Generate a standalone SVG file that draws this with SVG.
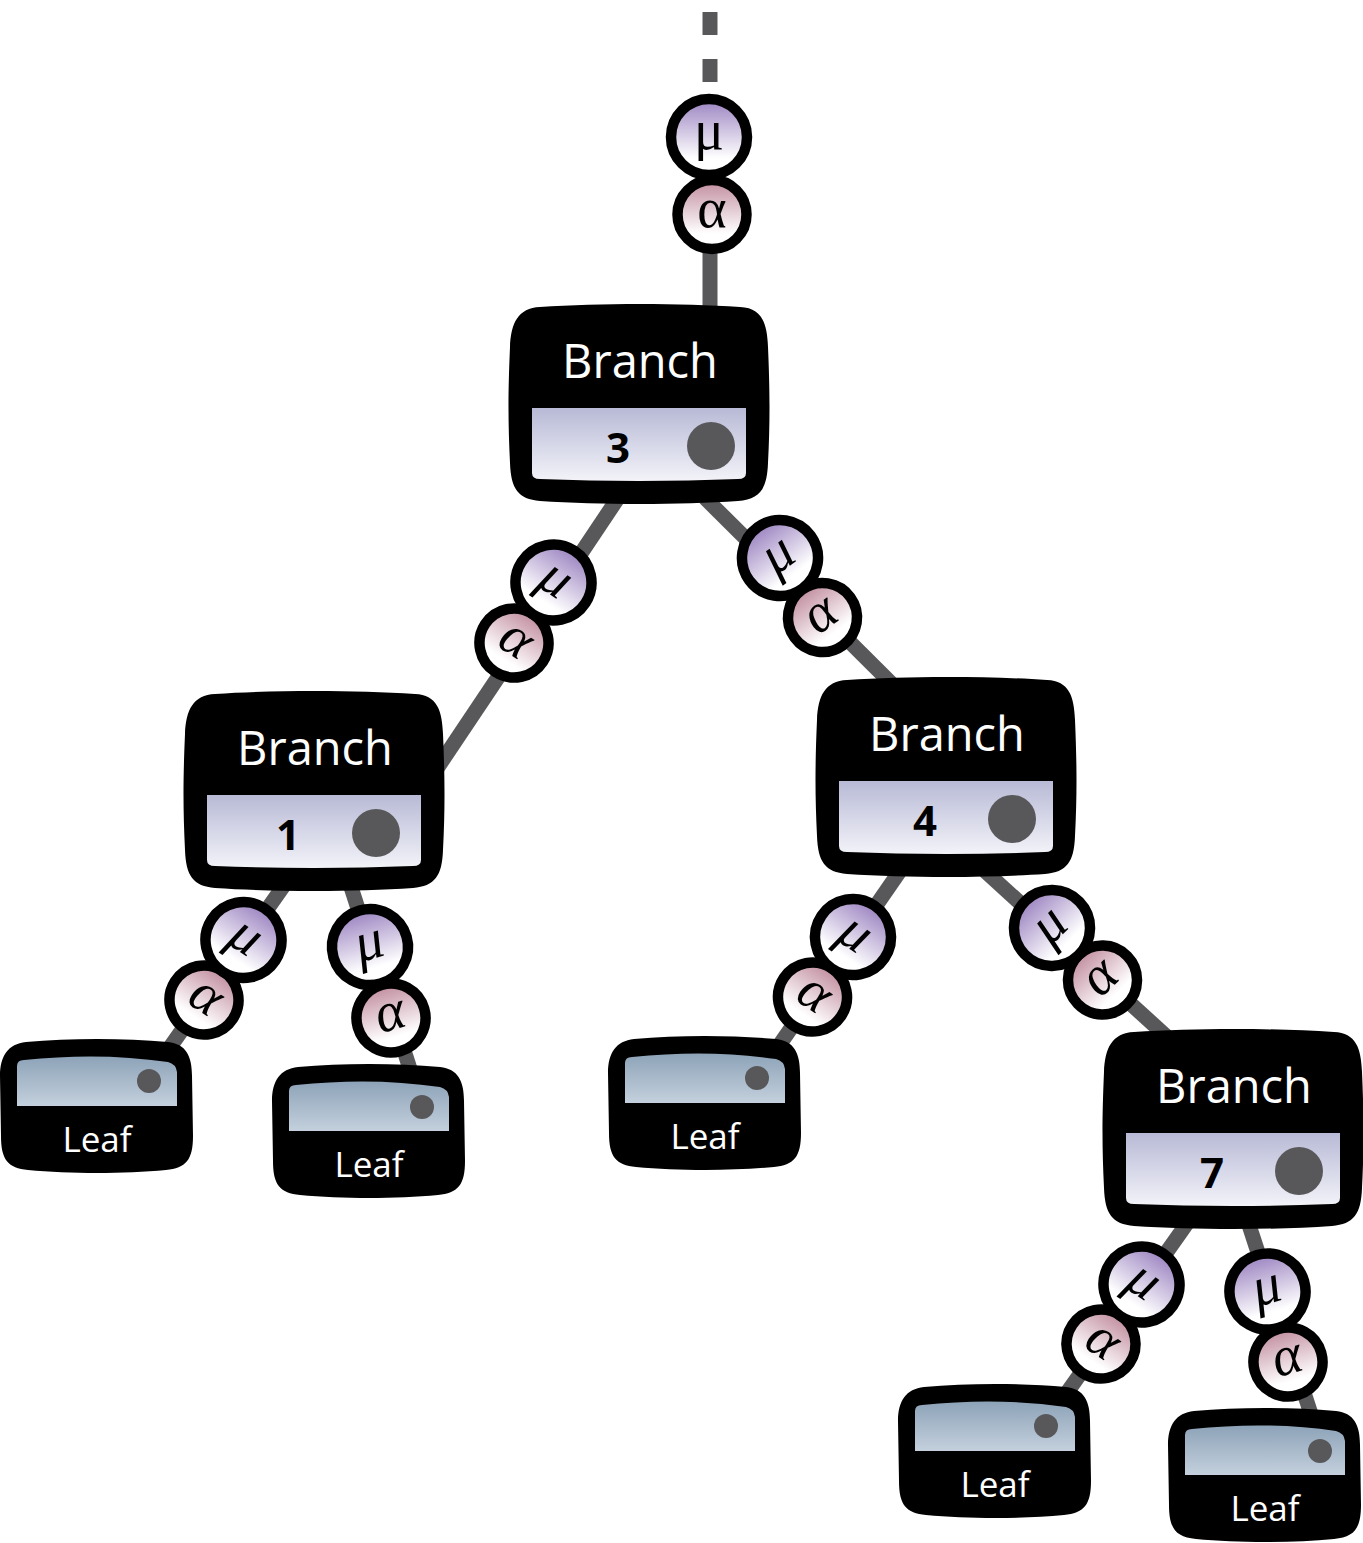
<svg xmlns="http://www.w3.org/2000/svg" width="1363" height="1543" viewBox="0 0 1363 1543">
<defs>
<linearGradient id="gMu" x1="0" y1="0" x2="0" y2="1">
<stop offset="0" stop-color="#9a82c0"/>
<stop offset="0.78" stop-color="#ffffff"/>
</linearGradient>
<linearGradient id="gAl" x1="0" y1="0" x2="0" y2="1">
<stop offset="0" stop-color="#c08b9c"/>
<stop offset="0.78" stop-color="#ffffff"/>
</linearGradient>
<linearGradient id="gBP" x1="0" y1="0" x2="0" y2="1">
<stop offset="0" stop-color="#b8bad6"/>
<stop offset="1" stop-color="#f3f3f9"/>
</linearGradient>
<linearGradient id="gLP" x1="0" y1="0" x2="0" y2="1">
<stop offset="0" stop-color="#8da3b8"/>
<stop offset="1" stop-color="#c4d0dd"/>
</linearGradient>
<path id="bbox" d="M 30,4 C 90,0 170,0 230,4 C 252,5 257,20 258,44 C 260,90 260,120 258,160 C 257,186 250,196 228,198 C 170,202 90,202 30,198 C 8,196 1,186 0,160 C -2,120 -2,90 0,44 C 1,20 8,5 30,4 Z"/>
<path id="bpanel" d="M 22,105 L 236,105 L 236,170 Q 236,176 228,176 Q 129,180 30,176 Q 22,176 22,170 Z"/>
<path id="lbox" d="M 26,4 C 70,0 124,0 168,4 C 186,6 192,18 192,38 L 193,98 C 193,122 186,130 166,132 C 124,136 70,136 28,132 C 8,130 1,122 1,98 L 0,38 C 0,18 8,6 26,4 Z"/>
<path id="lpanel" d="M 17,68 L 17,28 Q 17,22 24,22 Q 100,14 168,24 Q 176,26 177,34 L 177,68 Z"/>
</defs>
<style>
.edge{stroke:#58585a;stroke-width:15;fill:none}
.box{fill:#000}
.bp{fill:url(#gBP)}
.lp{fill:url(#gLP)}
.dot{fill:#58585a}
.bt{font-family:"Open Sans","Liberation Sans",sans-serif;font-size:47px;fill:#fff;text-anchor:middle}
.num{font-family:"Open Sans","Liberation Sans",sans-serif;font-size:42px;font-weight:bold;fill:#000;text-anchor:middle}
.lt{font-family:"Open Sans","Liberation Sans",sans-serif;font-size:35px;fill:#fff;text-anchor:middle}
.mu{fill:url(#gMu);stroke:#000;stroke-width:10.5}
.al{fill:url(#gAl);stroke:#000;stroke-width:10.5}
.g{font-family:"Liberation Serif","DejaVu Serif",serif;font-size:56px;fill:#000;text-anchor:middle;font-style:italic}
.up{font-style:normal}
</style>
<g id="connectors">
<line class="edge" x1="710" y1="12" x2="710" y2="35"/>
<line class="edge" x1="710" y1="59" x2="710" y2="82"/>
<line class="edge" x1="710" y1="130" x2="710" y2="310"/>
<line class="edge" x1="618" y1="498" x2="436" y2="770"/>
<line class="edge" x1="705" y1="498" x2="892" y2="684"/>
<line class="edge" x1="285" y1="884" x2="168" y2="1050"/>
<line class="edge" x1="350" y1="884" x2="411" y2="1072"/>
<line class="edge" x1="900" y1="871" x2="778" y2="1047"/>
<line class="edge" x1="985" y1="871" x2="1166" y2="1036"/>
<line class="edge" x1="1188" y1="1222" x2="1066" y2="1394"/>
<line class="edge" x1="1248" y1="1222" x2="1311" y2="1414"/>
</g>
<g id="edge-labels">
<g transform="translate(712,214.5)"><circle class="al" r="34.5"/><text class="g up" y="12">α</text></g>
<g transform="translate(709,137)"><circle class="mu" r="38"/><text class="g up" y="12">μ</text></g>
<g transform="translate(514,643) rotate(33)"><circle class="al" r="34.5"/><text class="g" y="12">α</text></g>
<g transform="translate(553.5,582.5) rotate(33)"><circle class="mu" r="38"/><text class="g" y="12">μ</text></g>
<g transform="translate(822.5,617.5) rotate(-36)"><circle class="al" r="34.5"/><text class="g" y="12">α</text></g>
<g transform="translate(780,558) rotate(-36)"><circle class="mu" r="38"/><text class="g" y="12">μ</text></g>
<g transform="translate(204,1000) rotate(33)"><circle class="al" r="34.5"/><text class="g" y="12">α</text></g>
<g transform="translate(243.5,940) rotate(33)"><circle class="mu" r="38"/><text class="g" y="12">μ</text></g>
<g transform="translate(391,1018) rotate(-16)"><circle class="al" r="34.5"/><text class="g" y="12">α</text></g>
<g transform="translate(370,947) rotate(-16)"><circle class="mu" r="38"/><text class="g" y="12">μ</text></g>
<g transform="translate(812.5,997) rotate(34)"><circle class="al" r="34.5"/><text class="g" y="12">α</text></g>
<g transform="translate(853,937) rotate(34)"><circle class="mu" r="38"/><text class="g" y="12">μ</text></g>
<g transform="translate(1102.5,980) rotate(-44)"><circle class="al" r="34.5"/><text class="g" y="12">α</text></g>
<g transform="translate(1052,928) rotate(-44)"><circle class="mu" r="38"/><text class="g" y="12">μ</text></g>
<g transform="translate(1101,1344) rotate(34)"><circle class="al" r="34.5"/><text class="g" y="12">α</text></g>
<g transform="translate(1141.5,1284.5) rotate(34)"><circle class="mu" r="38"/><text class="g" y="12">μ</text></g>
<g transform="translate(1288,1362) rotate(-16)"><circle class="al" r="34.5"/><text class="g" y="12">α</text></g>
<g transform="translate(1267.5,1291.5) rotate(-16)"><circle class="mu" r="38"/><text class="g" y="12">μ</text></g>
</g>
<g id="branch3" transform="translate(510,303)">
<use href="#bbox" class="box"/><use href="#bpanel" class="bp"/>
<text class="bt" x="130" y="75">Branch</text><text class="num" x="108" y="160">3</text><circle class="dot" cx="201" cy="143" r="24"/>
</g>
<g id="branch1" transform="translate(185,690)">
<use href="#bbox" class="box"/><use href="#bpanel" class="bp"/>
<text class="bt" x="130" y="75">Branch</text><text class="num" x="103" y="160">1</text><circle class="dot" cx="191" cy="143" r="24"/>
</g>
<g id="branch4" transform="translate(817,676)">
<use href="#bbox" class="box"/><use href="#bpanel" class="bp"/>
<text class="bt" x="130" y="75">Branch</text><text class="num" x="108" y="160">4</text><circle class="dot" cx="195" cy="143" r="24"/>
</g>
<g id="branch7" transform="translate(1104,1028)">
<use href="#bbox" class="box"/><use href="#bpanel" class="bp"/>
<text class="bt" x="130" y="75">Branch</text><text class="num" x="108" y="160">7</text><circle class="dot" cx="195" cy="143" r="24"/>
</g>
<g id="leaf1" transform="translate(0,1038)">
<use href="#lbox" class="box"/><use href="#lpanel" class="lp"/><circle class="dot" cx="149" cy="43" r="12"/>
<text class="lt" x="97" y="114">Leaf</text>
</g>
<g id="leaf2" transform="translate(272,1063)">
<use href="#lbox" class="box"/><use href="#lpanel" class="lp"/><circle class="dot" cx="150" cy="44" r="12"/>
<text class="lt" x="97" y="114">Leaf</text>
</g>
<g id="leaf3" transform="translate(608,1035)">
<use href="#lbox" class="box"/><use href="#lpanel" class="lp"/><circle class="dot" cx="149" cy="43" r="12"/>
<text class="lt" x="97" y="114">Leaf</text>
</g>
<g id="leaf4" transform="translate(898,1383)">
<use href="#lbox" class="box"/><use href="#lpanel" class="lp"/><circle class="dot" cx="148" cy="43" r="12"/>
<text class="lt" x="97" y="114">Leaf</text>
</g>
<g id="leaf5" transform="translate(1168,1407)">
<use href="#lbox" class="box"/><use href="#lpanel" class="lp"/><circle class="dot" cx="152" cy="44" r="12"/>
<text class="lt" x="97" y="114">Leaf</text>
</g>
</svg>
